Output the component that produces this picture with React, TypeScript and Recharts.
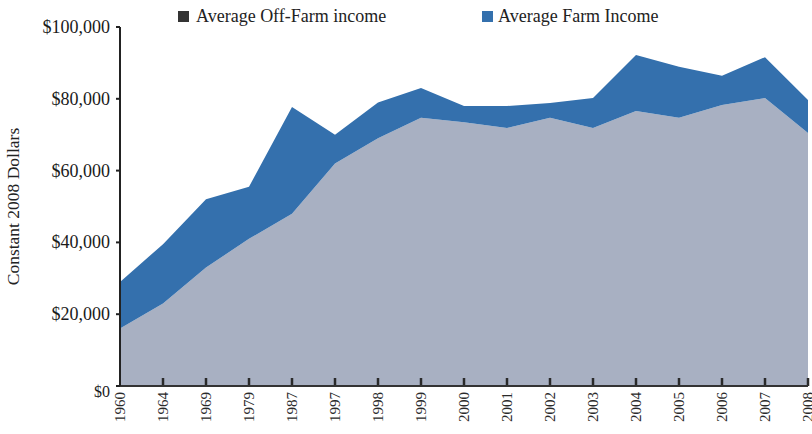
import React from 'react';
import { AreaChart, Area, XAxis, YAxis, ReferenceLine } from 'recharts';

const years = ['1960','1964','1969','1979','1987','1997','1998','1999','2000','2001','2002','2003','2004','2005','2006','2007','2008'];
const offFarmIncome = [16000, 23000, 33000, 41000, 48000, 62000, 69000, 74700, 73500, 71900, 74700, 71900, 76600, 74700, 78300, 80200, 70500];
const farmIncome = [13000, 16500, 19000, 14500, 29700, 8000, 10000, 8300, 4500, 6100, 4100, 8300, 15600, 14200, 8100, 11400, 9200];
const yTicks = [0, 20000, 40000, 60000, 80000, 100000];
const legendLabels = ['Average Off-Farm income', 'Average Farm Income'];

const data = years.map((y, i) => ({ year: y, offFarm: offFarmIncome[i], farm: farmIncome[i] }));

const FONT = '"Liberation Serif", "DejaVu Serif", serif';
const GRAY = '#a8b0c2';
const BLUE = '#3470ad';

const fmt = (v: number) => '$' + v.toLocaleString('en-US');

const XTick = (props: any) => {
  const { x, y, payload } = props;
  return (
    <text
      x={x}
      y={y + 6}
      transform={`rotate(-90 ${x} ${y + 6})`}
      textAnchor="end"
      dominantBaseline="central"
      fontFamily={FONT}
      fontSize={15}
      fill="#2a2a2a"
    >
      {payload.value}
    </text>
  );
};

const YTick = (props: any) => {
  const { x, y, payload } = props;
  const dy = payload.value === 0 ? 5 : 0;
  return (
    <text
      x={x}
      y={y + dy}
      textAnchor="end"
      dominantBaseline="central"
      fontFamily={FONT}
      fontSize={payload.value === 0 ? 16 : 18}
      fill="#1a1a1a"
    >
      {fmt(payload.value)}
    </text>
  );
};

const InnerTick = (props: any) => {
  const { x1, y1, y2 } = props;
  const bottom = Math.max(Number(y1), Number(y2));
  return <path d={`M${x1},${bottom - 8}L${x1},${bottom}`} stroke="#2a2a2a" strokeWidth={2.5} fill="none" />;
};

export default function App() {
  return (
    <div style={{ position: 'absolute', left: 0, top: 0, width: 812, height: 434, background: '#fff' }}>
      <AreaChart width={812} height={434} data={data} margin={{ top: 27, right: 4, bottom: 0, left: 0 }}>
        <XAxis
          dataKey="year"
          height={48}
          interval={0}
          tickSize={0}
          tickMargin={0}
          tick={<XTick />}
          axisLine={{ stroke: '#333', strokeWidth: 2 }}
          tickLine={false}
        />
        <YAxis
          width={120}
          domain={[0, 100000]}
          ticks={yTicks}
          tickSize={4}
          tickMargin={6}
          axisLine={{ stroke: '#222', strokeWidth: 2 }}
          tickLine={{ stroke: '#222', strokeWidth: 2 }}
          tick={<YTick />}
          label={{
            value: 'Constant 2008 Dollars',
            angle: -90,
            position: 'insideLeft',
            dx: 8,
            style: { fontFamily: FONT, fontSize: 17.5, fill: '#222', textAnchor: 'middle' },
          }}
        />
        <Area
          type="linear"
          dataKey="offFarm"
          stackId="1"
          stroke="none"
          fill={GRAY}
          fillOpacity={1}
          isAnimationActive={false}
        />
        <Area
          type="linear"
          dataKey="farm"
          stackId="1"
          stroke="none"
          fill={BLUE}
          fillOpacity={1}
          isAnimationActive={false}
        />
        {years.slice(1).map((yr) => (
          <ReferenceLine key={yr} x={yr} stroke="#2a2a2a" ifOverflow="visible" shape={(p: any) => <InnerTick {...p} />} />
        ))}
      </AreaChart>
      <svg width={812} height={30} style={{ position: 'absolute', left: 0, top: 0 }}>
        <rect x={178} y={11} width={11} height={11} fill="#333" />
        <text x={196} y={22} fontFamily={FONT} fontSize={18} fill="#222">{legendLabels[0]}</text>
        <rect x={482} y={11} width={11} height={11} fill={BLUE} />
        <text x={498} y={22} fontFamily={FONT} fontSize={18} fill="#222">{legendLabels[1]}</text>
      </svg>
    </div>
  );
}
